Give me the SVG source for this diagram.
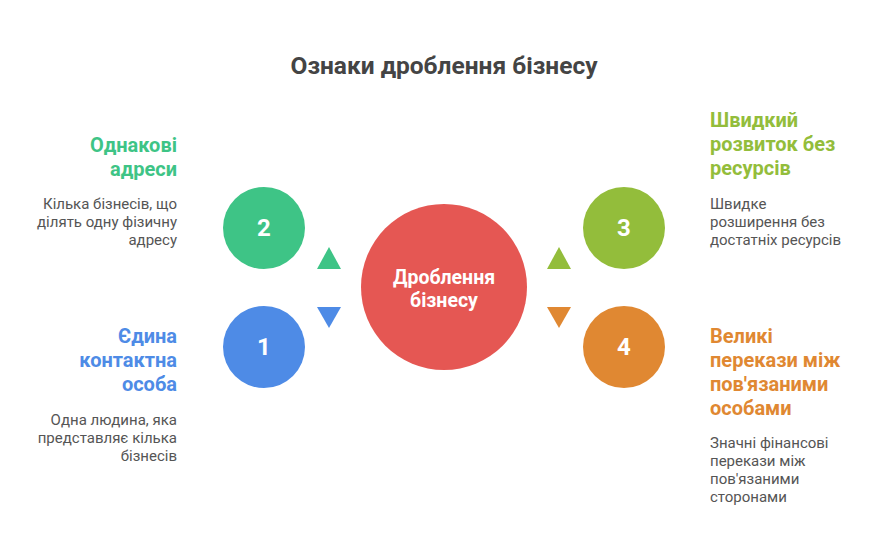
<svg xmlns="http://www.w3.org/2000/svg" width="888" height="552" viewBox="0 0 888 552">
<style>
text{font-family:Roboto,"Liberation Sans",sans-serif}
.title{font-size:24.5px;font-weight:700;fill:#444}
.head{font-size:20px;font-weight:700}
.desc{font-size:15px;fill:#555}
.num{font-size:24px;font-weight:700;fill:#fff;text-anchor:middle}
.l{text-anchor:end}
</style>
<rect width="888" height="552" fill="#fff"/>
<text class="title" x="444" y="74" text-anchor="middle">Ознаки дроблення бізнесу</text>
<g id="connectors">
<polygon points="317,269 341,269 329,247" fill="#3EC486"/>
<polygon points="317,307 341,307 329,328" fill="#4E8BE6"/>
<polygon points="547,269 571,269 559,247" fill="#93BD3B"/>
<polygon points="547,307 571,307 559,328" fill="#E08832"/>
</g>
<g id="center">
<circle cx="444" cy="287" r="83" fill="#E55753"/>
<text x="444" y="284" text-anchor="middle" font-size="19.5" font-weight="700" fill="#fff">Дроблення</text>
<text x="444" y="307" text-anchor="middle" font-size="19.5" font-weight="700" fill="#fff">бізнесу</text>
</g>
<g id="node2">
<circle cx="264" cy="228" r="41" fill="#3EC486"/>
<text class="num" x="264" y="236">2</text>
<text class="head l" x="177" y="152" fill="#3EC486">Однакові</text>
<text class="head l" x="177" y="176" fill="#3EC486">адреси</text>
<text class="desc l" x="177" y="209">Кілька бізнесів, що</text>
<text class="desc l" x="177" y="227">ділять одну фізичну</text>
<text class="desc l" x="177" y="245">адресу</text>
</g>
<g id="node1">
<circle cx="264" cy="347" r="41" fill="#4E8BE6"/>
<text class="num" x="264" y="355">1</text>
<text class="head l" x="177" y="343" fill="#4E8BE6">Єдина</text>
<text class="head l" x="177" y="367" fill="#4E8BE6">контактна</text>
<text class="head l" x="177" y="391" fill="#4E8BE6">особа</text>
<text class="desc l" x="177" y="425">Одна людина, яка</text>
<text class="desc l" x="177" y="443">представляє кілька</text>
<text class="desc l" x="177" y="461">бізнесів</text>
</g>
<g id="node3">
<circle cx="624" cy="228" r="41" fill="#93BD3B"/>
<text class="num" x="624" y="236">3</text>
<text class="head" x="710" y="127" fill="#93BD3B">Швидкий</text>
<text class="head" x="710" y="151" fill="#93BD3B">розвиток без</text>
<text class="head" x="710" y="175" fill="#93BD3B">ресурсів</text>
<text class="desc" x="710" y="209">Швидке</text>
<text class="desc" x="710" y="227">розширення без</text>
<text class="desc" x="710" y="245">достатніх ресурсів</text>
</g>
<g id="node4">
<circle cx="624" cy="347" r="41" fill="#E08832"/>
<text class="num" x="624" y="355">4</text>
<text class="head" x="710" y="343" fill="#E08832">Великі</text>
<text class="head" x="710" y="367" fill="#E08832">перекази між</text>
<text class="head" x="710" y="391" fill="#E08832">пов'язаними</text>
<text class="head" x="710" y="415" fill="#E08832">особами</text>
<text class="desc" x="710" y="448">Значні фінансові</text>
<text class="desc" x="710" y="466">перекази між</text>
<text class="desc" x="710" y="484">пов'язаними</text>
<text class="desc" x="710" y="502">сторонами</text>
</g>
</svg>
